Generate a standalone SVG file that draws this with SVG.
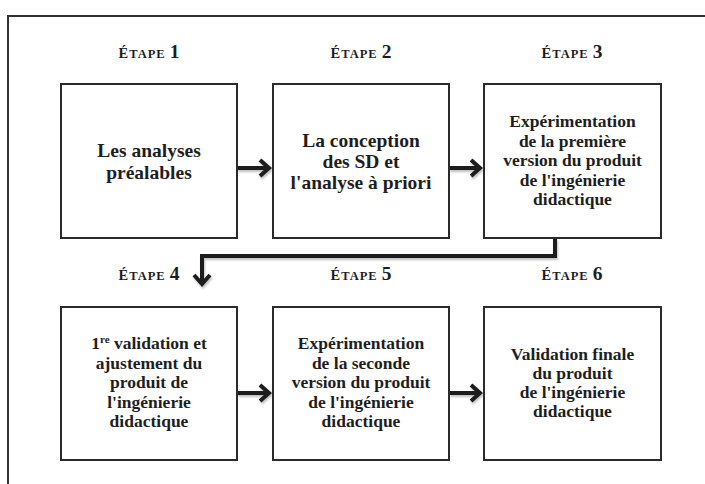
<svg xmlns="http://www.w3.org/2000/svg" width="705" height="484" viewBox="0 0 705 484">
  <style>
    .box { fill: #ffffff; stroke: #2b2b2b; stroke-width: 2; }
    .t { font-family: "Liberation Serif", "Times New Roman", serif; font-weight: bold; fill: #1e1e1e; text-anchor: middle; }
    .big { font-size: 19.5px; }
    .mid { font-size: 17.5px; }
    .step { font-family: "Liberation Serif", "Times New Roman", serif; font-weight: bold; fill: #1e1e1e; text-anchor: middle; }
    .sc { font-size: 12.5px; letter-spacing: 1px; }
    .cap { font-size: 14.5px; letter-spacing: 1px; }
    .num { font-size: 19.5px; }
    .link { fill: none; stroke: #1e1e1e; stroke-width: 4; marker-end: url(#chevron); }
    .frame { fill: none; stroke: #333333; stroke-width: 2; }
  </style>
  <defs>
    <marker id="chevron" markerUnits="userSpaceOnUse" markerWidth="24" markerHeight="24" viewBox="-4 -12 24 24" refX="9" refY="0" orient="auto">
      <path d="M0,-8 L9,0 L0,8" fill="none" stroke="#1e1e1e" stroke-width="4" stroke-linejoin="miter"/>
    </marker>
    <filter id="shade" x="-20%" y="-50%" width="140%" height="200%">
      <feDropShadow dx="1" dy="2" stdDeviation="1.2" flood-color="#000000" flood-opacity="0.25"/>
    </filter>
  </defs>

  <rect width="705" height="484" fill="#ffffff"/>
  <path class="frame" d="M705,16 H8 V484"/>

  <!-- step headings -->
  <g id="headings">
    <text class="step" x="149" y="58"><tspan class="cap">É</tspan><tspan class="sc">TAPE</tspan> <tspan class="num">1</tspan></text>
    <text class="step" x="361" y="58"><tspan class="cap">É</tspan><tspan class="sc">TAPE</tspan> <tspan class="num">2</tspan></text>
    <text class="step" x="572" y="58"><tspan class="cap">É</tspan><tspan class="sc">TAPE</tspan> <tspan class="num">3</tspan></text>
    <text class="step" x="149" y="280"><tspan class="cap">É</tspan><tspan class="sc">TAPE</tspan> <tspan class="num">4</tspan></text>
    <text class="step" x="361" y="280"><tspan class="cap">É</tspan><tspan class="sc">TAPE</tspan> <tspan class="num">5</tspan></text>
    <text class="step" x="572" y="280"><tspan class="cap">É</tspan><tspan class="sc">TAPE</tspan> <tspan class="num">6</tspan></text>
  </g>

  <!-- connectors -->
  <g id="connectors" filter="url(#shade)">
    <path class="link" d="M237,168 H269"/>
    <path class="link" d="M449,168 H480"/>
    <path class="link" d="M555,238 V256 H202 V284"/>
    <path class="link" d="M237,393 H269"/>
    <path class="link" d="M449,393 H480"/>
  </g>

  <g id="step1">
    <rect class="box" x="61" y="84" width="176" height="154"/>
    <text class="t big" x="149" y="157">Les analyses</text>
    <text class="t big" x="149" y="179">préalables</text>
  </g>

  <g id="step2">
    <rect class="box" x="273" y="84" width="176" height="154"/>
    <text class="t big" x="361" y="147">La conception</text>
    <text class="t big" x="361" y="168">des SD et</text>
    <text class="t big" x="361" y="189">l'analyse à priori</text>
  </g>

  <g id="step3">
    <rect class="box" x="484" y="84" width="177" height="154"/>
    <text class="t mid" x="572.5" y="127">Expérimentation</text>
    <text class="t mid" x="572.5" y="146.5">de la première</text>
    <text class="t mid" x="572.5" y="166">version du produit</text>
    <text class="t mid" x="572.5" y="185.5">de l'ingénierie</text>
    <text class="t mid" x="572.5" y="205">didactique</text>
  </g>

  <g id="step4">
    <rect class="box" x="61" y="307" width="176" height="153"/>
    <text class="t mid" x="149" y="349">1<tspan font-size="11" dy="-6">re</tspan><tspan dy="6"> validation et</tspan></text>
    <text class="t mid" x="149" y="368.5">ajustement du</text>
    <text class="t mid" x="149" y="388">produit de</text>
    <text class="t mid" x="149" y="407.5">l'ingénierie</text>
    <text class="t mid" x="149" y="427">didactique</text>
  </g>

  <g id="step5">
    <rect class="box" x="273" y="307" width="176" height="153"/>
    <text class="t mid" x="361" y="349">Expérimentation</text>
    <text class="t mid" x="361" y="368.5">de la seconde</text>
    <text class="t mid" x="361" y="388">version du produit</text>
    <text class="t mid" x="361" y="407.5">de l'ingénierie</text>
    <text class="t mid" x="361" y="427">didactique</text>
  </g>

  <g id="step6">
    <rect class="box" x="484" y="307" width="177" height="153"/>
    <text class="t mid" x="572.5" y="360">Validation finale</text>
    <text class="t mid" x="572.5" y="379">du produit</text>
    <text class="t mid" x="572.5" y="398">de l'ingénierie</text>
    <text class="t mid" x="572.5" y="417">didactique</text>
  </g>
</svg>
